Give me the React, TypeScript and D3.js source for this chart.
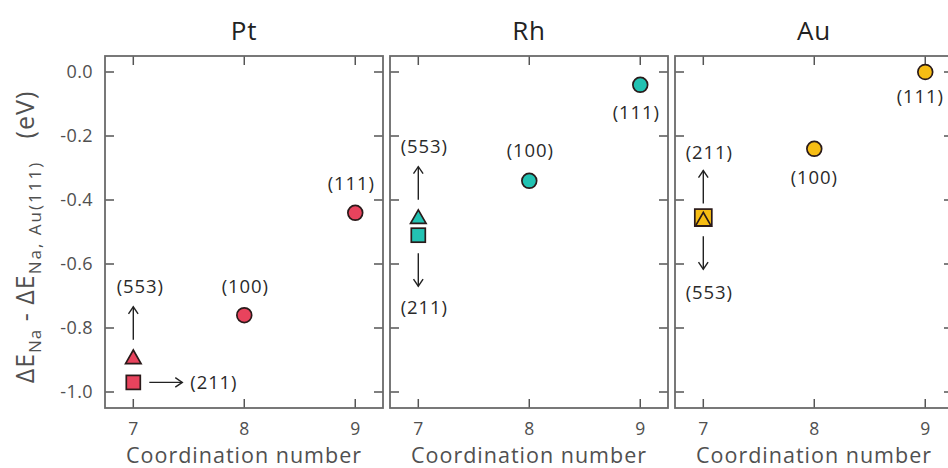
import React from "react";
import * as d3 from "d3";

// Na adsorption energy relative to Au(111), by facet and metal
const metals = ["Pt", "Rh", "Au"];
const facets = ["(111)", "(100)", "(553)", "(211)"];
const coordination = [9, 8, 7, 7];
const ptEnergy = [-0.44, -0.76, -0.89, -0.97];
const rhEnergy = [-0.04, -0.34, -0.452, -0.51];
const auEnergy = [0.0, -0.24, -0.46, -0.455];
const energies = [ptEnergy, rhEnergy, auEnergy];
const metalColors = ["#e8435d", "#22c2b2", "#f7bd14"];
const facetShapes = ["circle", "circle", "triangle", "square"];

const yTicks = [0, -0.2, -0.4, -0.6, -0.8, -1.0];
const xTicks = [7, 8, 9];

// label placement per metal, per facet: side of the marker and whether an arrow leads to it
type Place = { side: "above" | "below" | "right"; arrow: boolean; dx: number; gap: number };
const placements: Place[][] = [
  [
    { side: "above", arrow: false, dx: -4, gap: 29 },
    { side: "above", arrow: false, dx: 1, gap: 29 },
    { side: "above", arrow: true, dx: 7, gap: 70 },
    { side: "right", arrow: true, dx: 57, gap: 0 },
  ],
  [
    { side: "below", arrow: false, dx: -4, gap: 28 },
    { side: "above", arrow: false, dx: 1, gap: 30 },
    { side: "above", arrow: true, dx: 6, gap: 70 },
    { side: "below", arrow: true, dx: 6, gap: 72 },
  ],
  [
    { side: "below", arrow: false, dx: -5, gap: 25 },
    { side: "below", arrow: false, dx: 0, gap: 29 },
    { side: "below", arrow: true, dx: 6, gap: 73 },
    { side: "above", arrow: true, dx: 6, gap: 65 },
  ],
];

const W = 948;
const H = 468;
const panelLeft = [105, 390, 675];
const panelW = 278;
const top = 56;
const bottom = 408;
const font = "'Open Sans', 'DejaVu Sans', sans-serif";
const frameColor = "#6a6a6a";
const textGray = "#505050";

function Arrow({ x1, y1, x2, y2 }: { x1: number; y1: number; x2: number; y2: number }) {
  const ang = Math.atan2(y2 - y1, x2 - x1);
  const L = 8.5;
  const spread = 0.6;
  const a1 = ang + Math.PI - spread;
  const a2 = ang + Math.PI + spread;
  const head = `M${x2 + L * Math.cos(a1)},${y2 + L * Math.sin(a1)}L${x2},${y2}L${x2 + L * Math.cos(a2)},${y2 + L * Math.sin(a2)}`;
  return (
    <g stroke="#222" strokeWidth={1.4} fill="none">
      <line x1={x1} y1={y1} x2={x2} y2={y2} />
      <path d={head} />
    </g>
  );
}

function Marker({ shape, x, y, color, big }: { shape: string; x: number; y: number; color: string; big: boolean }) {
  const stroke = "#2a1a1a";
  if (shape === "circle") {
    return <circle cx={x} cy={y} r={7.4} fill={color} stroke={stroke} strokeWidth={1.7} />;
  }
  if (shape === "square") {
    const s = big ? 17 : 14;
    return <rect x={x - s / 2} y={y - s / 2} width={s} height={s} fill={color} stroke={stroke} strokeWidth={1.7} />;
  }
  const w = 15.5;
  const h = 13.5;
  const d = `M${x - w / 2},${y + h / 2}L${x},${y - h / 2}L${x + w / 2},${y + h / 2}Z`;
  return <path d={d} fill={color} stroke={stroke} strokeWidth={1.7} strokeLinejoin="miter" />;
}

function Panel({ idx }: { idx: number }) {
  const left = panelLeft[idx];
  const x = d3.scaleLinear().domain([6.745, 9.25]).range([left, left + panelW]);
  const y = d3.scaleLinear().domain([-1.05, 0.05]).range([bottom, top]);
  const color = metalColors[idx];
  const vals = energies[idx];
  const fmt = d3.format(".1f");
  const tick = 9;
  // Au: draw the square before the triangle so the triangle sits inside it
  const order = idx === 2 ? [0, 1, 3, 2] : [0, 1, 2, 3];
  const markerHalf = (i: number) => (facetShapes[i] === "square" && idx === 2 ? 14 : facetShapes[i] === "square" ? 18 : 17);

  return (
    <g>
      <text x={left + panelW / 2} y={40} textAnchor="middle" fontSize={26} fill="#222" letterSpacing={0.8}>
        {metals[idx]}
      </text>
      {yTicks.map((t) => (
        <g key={"y" + t} stroke="#555" strokeWidth={1.5}>
          <line x1={left} x2={left + tick} y1={y(t)} y2={y(t)} />
          <line x1={left + panelW - tick} x2={left + panelW} y1={y(t)} y2={y(t)} />
        </g>
      ))}
      {xTicks.map((t) => (
        <g key={"x" + t} stroke="#555" strokeWidth={1.5}>
          <line x1={x(t)} x2={x(t)} y1={top} y2={top + tick} />
          <line x1={x(t)} x2={x(t)} y1={bottom - tick} y2={bottom} />
        </g>
      ))}
      <rect x={left} y={top} width={panelW} height={bottom - top} fill="none" stroke={frameColor} strokeWidth={1.8} />
      {idx === 0 &&
        yTicks.map((t) => (
          <text key={"yl" + t} x={left - 12} y={y(t)} dy="0.35em" textAnchor="end" fontSize={18} fill={textGray} letterSpacing={0.4}>
            {fmt(t).replace("−", "-")}
          </text>
        ))}
      {xTicks.map((t) => (
        <text key={"xl" + t} x={x(t)} y={435} textAnchor="middle" fontSize={17.5} fill={textGray}>
          {t}
        </text>
      ))}
      <text x={left + panelW / 2} y={463} textAnchor="middle" fontSize={21.5} fill={textGray} letterSpacing={1}>
        Coordination number
      </text>

      {facets.map((f, i) => {
        const p = placements[idx][i];
        const mx = x(coordination[i]);
        const my = y(vals[i]);
        const half = markerHalf(i);
        const els: React.ReactNode[] = [];
        if (p.side === "right") {
          if (p.arrow) els.push(<Arrow key="a" x1={mx + 16} y1={my} x2={mx + 49} y2={my} />);
          els.push(
            <text key="t" x={mx + p.dx} y={my} dy="0.35em" fontSize={18.5} fill="#2a2a2a" letterSpacing={0.9}>
              {f}
            </text>
          );
        } else {
          const sgn = p.side === "above" ? -1 : 1;
          if (p.arrow) els.push(<Arrow key="a" x1={mx} y1={my + sgn * half} x2={mx} y2={my + sgn * (half + 33)} />);
          els.push(
            <text key="t" x={mx + p.dx} y={my + sgn * p.gap} dy="0.35em" textAnchor="middle" fontSize={18.5} fill="#2a2a2a" letterSpacing={0.9}>
              {f}
            </text>
          );
        }
        return <g key={f}>{els}</g>;
      })}
      {order.map((i) => (
        <Marker key={"m" + i} shape={facetShapes[i]} x={x(coordination[i])} y={y(vals[i])} color={color} big={idx === 2} />
      ))}
    </g>
  );
}

export default function App() {
  return (
    <svg width={W} height={H} style={{ position: "absolute", left: 0, top: 0, background: "#fff" }} fontFamily={font}>
      <rect width={W} height={H} fill="#fff" />
      {metals.map((m, i) => (
        <Panel key={m} idx={i} />
      ))}
      <text transform="translate(34,237) rotate(-90)" textAnchor="middle" fill={textGray} fontSize={25} letterSpacing={1}>
        <tspan>ΔE</tspan>
        <tspan fontSize={17} dy={7}>Na</tspan>
        <tspan dy={-7}> - ΔE</tspan>
        <tspan fontSize={17} dy={7} letterSpacing={2}>Na, Au(111)</tspan>
        <tspan dy={-7} xmlSpace="preserve">{"   (eV)"}</tspan>
      </text>
    </svg>
  );
}
